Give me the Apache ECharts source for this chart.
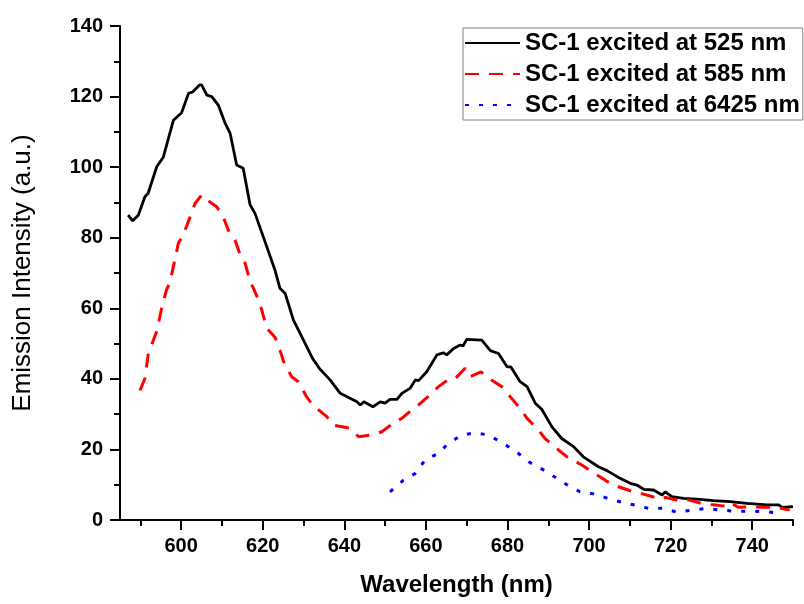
<!DOCTYPE html>
<html>
<head>
<meta charset="utf-8">
<script src="https://cdn.jsdelivr.net/npm/echarts@6/dist/echarts.min.js"></script>
<style>
    html, body {margin: 0; padding: 0; background: #fff;}
    #chart {width: 804px; height: 604px;}
</style>
</head>
<body>
<div id="chart"></div>
<script>
// emission spectra of SC-1
var names = ['SC-1 excited at 525 nm', 'SC-1 excited at 585 nm', 'SC-1 excited at 6425 nm'];

var wl525 = [587.0, 588.1, 589.5, 591.1, 591.9, 594.0, 595.6, 598.1, 600.1, 601.8, 602.8, 604.5, 605.0, 606.3,
    607.5, 609.1, 610.8, 612.0, 613.6, 615.2, 616.9, 618.1, 621.0, 623.0, 624.2, 625.5, 627.5, 629.1, 632.2,
    634.0, 636.5, 639.0, 641.4, 643.1, 643.9, 644.8, 647.0, 648.8, 650.0, 651.2, 652.9, 654.1, 656.1, 657.4,
    658.2, 660.2, 662.7, 664.3, 665.1, 666.8, 668.4, 669.1, 670.0, 673.7, 675.8, 677.8, 679.9, 680.8, 683.1,
    684.8, 686.8, 688.4, 690.9, 693.3, 696.2, 698.6, 702.3, 704.4, 707.6, 710.1, 711.7, 713.4, 715.8, 717.9,
    718.7, 720.3, 723.2, 726.4, 730.5, 734.6, 738.7, 743.6, 746.5, 747.3, 750.0];
var int525 = [86.4, 84.8, 86.4, 91.6, 92.6, 100.1, 102.8, 113.3, 115.4, 120.9, 121.3, 123.3, 123.3, 120.4,
    120.0, 117.6, 112.4, 109.6, 100.6, 99.7, 89.3, 86.9, 77.4, 70.8, 65.7, 64.2, 56.7, 53.0, 45.8,
    42.8, 39.7, 35.9, 34.5, 33.5, 32.6, 33.5, 32.1, 33.5, 33.1, 34.2, 34.2, 35.9, 37.3, 39.7,
    39.5, 42.0, 46.8, 47.4, 46.8, 48.6, 49.6, 49.3, 51.2, 51.0, 48.0, 47.2, 43.4, 43.4, 39.2,
    37.8, 33.1, 31.4, 26.4, 23.1, 20.8, 17.9, 15.1, 14.0, 11.8, 10.4, 9.9, 8.7, 8.5, 7.1,
    8.0, 6.6, 6.1, 5.9, 5.5, 5.2, 4.7, 4.3, 4.3, 3.6, 3.8];

var wl585 = [589.9, 591.1, 591.9, 593.2, 594.1, 595.2, 596.4, 597.3, 598.3, 599.3, 600.5, 602.2, 603.4, 605.0,
    605.8, 608.7, 610.3, 611.6, 613.2, 614.4, 615.7, 616.9, 617.7, 619.3, 621.0, 623.0, 624.2, 625.1, 627.1,
    628.7, 630.6, 632.2, 635.7, 637.3, 641.4, 643.5, 646.7, 649.2, 652.5, 654.1, 656.5, 658.2, 661.0, 663.1,
    665.7, 667.2, 669.6, 670.8, 673.5, 675.3, 678.6, 680.7, 683.1, 684.8, 687.6, 689.2, 693.0, 694.6, 698.2,
    700.7, 704.2, 706.0, 710.1, 712.5, 716.2, 717.9, 718.7, 721.9, 724.4, 728.1, 730.5, 734.2, 735.0, 736.6,
    739.9, 742.4, 746.1, 748.5, 749.2];
var int585 = [36.7, 40.1, 46.8, 51.0, 53.8, 60.0, 65.2, 67.5, 73.0, 78.4, 80.8, 85.9, 89.7, 92.1,
    91.1, 88.8, 85.9, 82.0, 79.3, 75.4, 72.7, 67.5, 65.7, 61.4, 54.3, 51.8, 48.2, 44.9, 40.6,
    39.2, 35.2, 32.6, 29.3, 26.9, 26.0, 23.6, 24.1, 25.0, 27.9, 28.8, 31.2, 32.6, 35.5, 37.8,
    40.0, 40.1, 43.0, 40.6, 42.0, 40.2, 37.8, 34.9, 31.6, 28.8, 25.5, 23.1, 19.4, 17.9, 15.6,
    13.7, 11.1, 9.9, 8.3, 7.6, 6.4, 5.9, 6.4, 5.5, 5.7, 4.5, 4.3, 3.8, 4.7, 3.6,
    3.8, 3.6, 3.6, 3.0, 2.9];

var wl6425 = [651.2, 654.5, 657.4, 659.8, 663.1, 665.3, 668.8, 672.1, 675.3, 678.2, 681.9, 685.2, 688.8, 692.1,
    695.4, 697.8, 701.1, 704.4, 708.1, 710.9, 714.6, 718.3, 721.5, 725.2, 728.7, 732.2, 735.8, 739.5, 743.2,
    746.9];
var int6425 = [8.0, 11.3, 13.2, 17.0, 18.9, 21.5, 24.1, 24.7, 24.1, 22.2, 19.6, 16.5, 14.2, 11.8,
    9.4, 8.0, 7.4, 6.2, 5.0, 4.3, 3.3, 3.3, 2.2, 2.8, 3.3, 2.8, 2.5, 2.5, 2.4,
    1.9];

var xTicks = [600, 620, 640, 660, 680, 700, 720, 740];
var xMinorTicks = [590, 610, 630, 650, 670, 690, 710, 730, 750];

var FONT = 'Arial, "Liberation Sans", sans-serif';

function pairs(xs, ys) {
    return xs.map(function (x, i) {
        return [x, ys[i]];
    });
}

var gridBox = {left: 120, right: 11, top: 26, bottom: 84, outerBoundsMode: 'none'};

var chart = echarts.init(document.getElementById('chart'));
chart.setOption({
    animation: false,
    backgroundColor: '#fff',
    grid: [gridBox, gridBox],
    legend: {
        data: names,
        orient: 'vertical',
        left: 463,
        top: 28,
        padding: [3, 3, 3, 1],
        itemGap: 7,
        itemWidth: 55,
        itemHeight: 14,
        borderColor: '#808080',
        borderWidth: 1,
        itemStyle: {opacity: 0},
        textStyle: {fontFamily: FONT, fontSize: 24, fontWeight: 'bold', color: '#000'}
    },
    xAxis: [{
        type: 'value',
        gridIndex: 0,
        min: 585,
        max: 750,
        name: 'Wavelength (nm)',
        nameLocation: 'middle',
        nameGap: 53,
        nameTextStyle: {fontFamily: FONT, fontSize: 24, fontWeight: 'bold', color: '#000'},
        axisLine: {lineStyle: {color: '#000', width: 2}},
        axisTick: {customValues: xTicks, length: 10, lineStyle: {color: '#000', width: 2}},
        axisLabel: {customValues: xTicks, margin: 16, fontFamily: FONT, fontSize: 20, fontWeight: 'bold', color: '#000'},
        splitLine: {show: false}
    }, {
        // minor ticks only
        type: 'value',
        gridIndex: 1,
        min: 585,
        max: 750,
        axisLine: {show: false},
        axisTick: {customValues: xMinorTicks, length: 6, lineStyle: {color: '#000', width: 2}},
        axisLabel: {show: false},
        splitLine: {show: false}
    }],
    yAxis: [{
        type: 'value',
        gridIndex: 0,
        min: 0,
        max: 140,
        interval: 20,
        name: 'Emission Intensity (a.u.)',
        nameLocation: 'middle',
        nameGap: 84,
        nameTextStyle: {fontFamily: FONT, fontSize: 26, color: '#000'},
        axisLine: {show: true, lineStyle: {color: '#000', width: 2}},
        axisTick: {show: true, length: 10, lineStyle: {color: '#000', width: 2}},
        minorTick: {show: true, splitNumber: 2, length: 6, lineStyle: {color: '#000', width: 2}},
        axisLabel: {margin: 17, fontFamily: FONT, fontSize: 20, fontWeight: 'bold', color: '#000'},
        splitLine: {show: false}
    }, {
        type: 'value',
        gridIndex: 1,
        min: 0,
        max: 140,
        show: false
    }],
    series: [{
        name: names[0],
        type: 'line',
        symbol: 'none',
        data: pairs(wl525, int525),
        itemStyle: {color: '#000'},
        lineStyle: {color: '#000', width: 2.8}
    }, {
        name: names[1],
        type: 'line',
        symbol: 'none',
        data: pairs(wl585, int585),
        itemStyle: {color: '#ff0000'},
        lineStyle: {color: '#ff0000', width: 3, type: [14, 10]}
    }, {
        name: names[2],
        type: 'line',
        symbol: 'none',
        data: pairs(wl6425, int6425),
        itemStyle: {color: '#0000ff'},
        lineStyle: {color: '#0000ff', width: 3, type: [4, 10]}
    }]
});
</script>
</body>
</html>
